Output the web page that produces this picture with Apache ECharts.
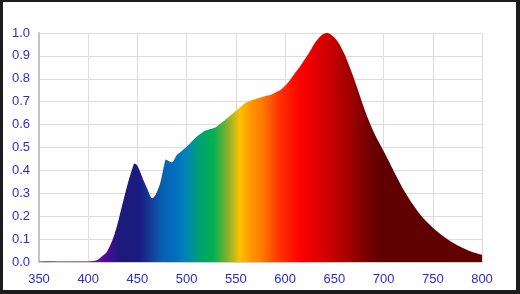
<!DOCTYPE html>
<html>
<head>
<meta charset="utf-8">
<script src="https://cdn.jsdelivr.net/npm/echarts@6/dist/echarts.min.js"></script>
<style>
html,body{margin:0;padding:0;background:#1c1c1c;width:520px;height:294px;overflow:hidden;}
#chart{position:absolute;left:3px;top:2px;width:513px;height:288px;background:#ffffff;}
</style>
</head>
<body>
<div id="chart"></div>
<script>
// Wavelength (nm) and relative intensity
var wavelengths = [350,360,370,380,390,400,405,410,412,415,419,425,430,434,440,445,447,450,456,460,465,468,473,477,479,482,485,490,495,500,505,510,517,520,527,530,537,540,547,550,557,560,567,575,580,585,590,595,600,605,610,615,620,625,630,634,638,642,646,650,655,660,665,670,675,680,685,690,695,700,705,710,715,720,730,740,750,760,770,780,790,800];
var intensity   = [0.002,0.003,0.002,0.002,0.002,0.002,0.004,0.010,0.017,0.028,0.045,0.100,0.170,0.240,0.340,0.410,0.430,0.420,0.358,0.320,0.278,0.290,0.343,0.420,0.448,0.440,0.435,0.467,0.485,0.503,0.525,0.547,0.569,0.575,0.584,0.590,0.613,0.625,0.649,0.660,0.686,0.695,0.707,0.718,0.725,0.729,0.740,0.751,0.770,0.795,0.825,0.853,0.885,0.918,0.955,0.977,0.993,1.000,0.995,0.980,0.952,0.910,0.858,0.800,0.738,0.675,0.618,0.568,0.525,0.485,0.443,0.400,0.358,0.318,0.250,0.193,0.150,0.115,0.085,0.062,0.044,0.032];
var xTicks = [350,400,450,500,550,600,650,700,750,800];
var yTicks = [0,0.1,0.2,0.3,0.4,0.5,0.6,0.7,0.8,0.9,1.0];

// spectrum colour stops (nm -> colour)
var specNm  = [350,415,432,452,475,490,500,513,527,541,554,567,575,595,615,642,666,686,697,800];
var specCol = ['#7a3ab0','#5a0aa0','#1c1a78','#1a1a80','#0a60b0','#0070c0','#0085b5','#00a070','#00b050','#80b030','#ffc000','#ff9000','#ff8000','#ff3000','#ff0000','#d00000','#a00000','#700000','#600000','#600000'];

var chart = echarts.init(document.getElementById('chart'));
var data = wavelengths.map(function(w,i){return [w,intensity[i]];});
var xmin = xTicks[0], xmax = xTicks[xTicks.length-1];
var stops = specNm.map(function(n,i){return {offset:(n-xmin)/(xmax-xmin), color:specCol[i]};});
var labelStyle = {color:'#2b2bd6', fontFamily:'Liberation Sans, Arial, sans-serif', fontSize:13};

chart.setOption({
  animation:false,
  grid:{left:36,right:34,top:31,bottom:28,containLabel:false},
  xAxis:{type:'value',min:xmin,max:xmax,interval:50,
    axisLine:{show:true,lineStyle:{color:'#c8c8c8',width:1.5}},
    axisTick:{show:false},
    splitLine:{show:true,lineStyle:{color:'#dcdcdc',width:1}},
    axisLabel:Object.assign({margin:11},labelStyle)},
  yAxis:{type:'value',min:yTicks[0],max:yTicks[yTicks.length-1],interval:0.1,
    axisLine:{show:true,lineStyle:{color:'#c4c4c4',width:2}},
    axisTick:{show:false},
    splitLine:{show:true,lineStyle:{color:'#dcdcdc',width:1}},
    axisLabel:Object.assign({margin:9,formatter:function(v){return v.toFixed(1);}},labelStyle)},
  series:[{type:'line',data:data,smooth:0.3,showSymbol:false,
    lineStyle:{width:0},
    areaStyle:{opacity:1,color:new echarts.graphic.LinearGradient(0,0,1,0,stops)}}]
});
</script>
</body>
</html>
